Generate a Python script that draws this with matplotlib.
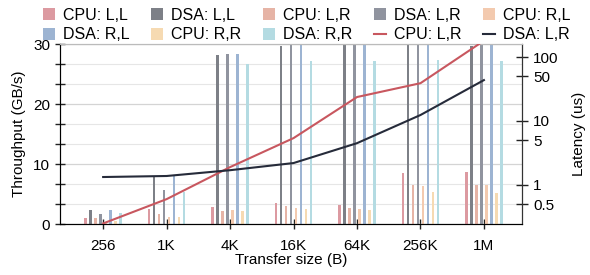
import numpy as np
import matplotlib
matplotlib.use("Agg")
import matplotlib.pyplot as plt
from matplotlib.ticker import MultipleLocator, FixedLocator, NullLocator, FuncFormatter

plt.rcParams['font.family'] = ['Liberation Sans', 'DejaVu Sans']

sizes = ['256', '1K', '4K', '16K', '64K', '256K', '1M']

# throughput bars (GB/s), values above 30 are clipped by the axis
bar_names = ['CPU: L,L', 'DSA: L,L', 'CPU: L,R', 'DSA: L,R',
             'CPU: R,L', 'DSA: R,L', 'CPU: R,R', 'DSA: R,R']
cpu_ll = [1.0, 2.5, 2.8, 3.5, 3.2, 8.5, 8.7]
dsa_ll = [2.3, 7.9, 28.2, 29.7, 29.8, 29.8, 29.7]
cpu_lr = [1.0, 1.7, 2.2, 3.0, 2.7, 6.5, 6.5]
dsa_lr = [1.6, 5.6, 28.4, 31.0, 31.0, 31.0, 31.0]
cpu_rl = [0.4, 1.1, 2.3, 2.6, 2.5, 6.4, 6.5]
dsa_rl = [2.3, 8.2, 28.3, 31.0, 31.0, 31.0, 31.0]
cpu_rr = [0.5, 1.1, 2.2, 2.5, 2.3, 5.4, 5.2]
dsa_rr = [1.8, 5.4, 26.6, 27.2, 27.2, 27.3, 27.2]

# latency lines (us)
lat_cpu_lr = [0.25, 0.6, 1.9, 5.4, 23.7, 39.0, 180.0]
lat_dsa_lr = [1.33, 1.38, 1.7, 2.2, 4.5, 12.4, 43.6]

bar_colors = ['#dc9aa1', '#7d8087', '#e6b4a6', '#90949f',
              '#f3caaf', '#9db4d2', '#f6dab2', '#b4dbe2']
line_colors = ['#c8575f', '#262b3a']

series = [cpu_ll, dsa_ll, cpu_lr, dsa_lr, cpu_rl, dsa_rl, cpu_rr, dsa_rr]

fs = 11

fig = plt.figure(figsize=(5.9, 2.75), dpi=100)
ax = fig.add_axes([60/590, 1-224/275, (522-60)/590, (224-44)/275])
x = np.arange(len(sizes))
step = 0.079
w = 0.04

for i, vals in enumerate(series):
    ax.bar(x + (i - 3.5)*step, vals, width=w, color=bar_colors[i],
           label=bar_names[i], zorder=2)

ax.set_ylim(0, 30)
ax.set_xlim(-0.68, 6.6)
ax.yaxis.set_major_locator(MultipleLocator(10))
ax.yaxis.set_minor_locator(MultipleLocator(10/3))
ax.grid(axis='y', which='major', color='#d4d4d4', lw=0.9, zorder=0)
ax.grid(axis='y', which='minor', color='#e6e6e6', lw=0.8, zorder=0)
ax.set_axisbelow(True)
ax.set_xticks(x)
ax.set_xticklabels(sizes)
ax.tick_params(axis='both', which='both', direction='inout', labelsize=fs,
               length=7, width=1, colors='#222222', labelcolor='black')
ax.tick_params(axis='x', pad=7)
ax.set_ylabel('Throughput (GB/s)', fontsize=fs, labelpad=5)
ax.set_xlabel('Transfer size (B)', fontsize=fs, labelpad=0)
for s in ['left', 'bottom']:
    ax.spines[s].set_color('#333333')
ax.spines['top'].set_color('#bbbbbb')

ax2 = ax.twinx()
ax2.plot(x, lat_cpu_lr, color=line_colors[0], lw=1.5, label='CPU: L,R', zorder=3)
ax2.plot(x, lat_dsa_lr, color=line_colors[1], lw=1.5, label='DSA: L,R', zorder=3)
ax2.set_yscale('log')
ax2.set_ylim(0.245, 160)
ax2.yaxis.set_major_locator(FixedLocator([0.5, 1, 5, 10, 50, 100]))
ax2.yaxis.set_minor_locator(NullLocator())
ax2.yaxis.set_major_formatter(FuncFormatter(lambda v, p: '%g' % v))
ax2.tick_params(axis='y', direction='inout', labelsize=fs, length=9, width=1,
                colors='#222222', labelcolor='black')
ax2.set_ylabel('Latency (us)', fontsize=fs, labelpad=10)
ax2.spines['right'].set_color('#333333')
ax2.spines['top'].set_color('#bbbbbb')

h1, l1 = ax.get_legend_handles_labels()
h2, l2 = ax2.get_legend_handles_labels()
hs = h1 + h2
ls = l1 + l2
# legend fills by column, so reorder to get row-wise order
order = [0, 5, 1, 6, 2, 7, 3, 8, 4, 9]
fig.legend([hs[k] for k in order], [ls[k] for k in order], loc='upper center',
           bbox_to_anchor=(0.52, 1.025), ncol=5, frameon=False, fontsize=11.5,
           handlelength=0.75, handleheight=0.75, handletextpad=0.5,
           columnspacing=1.35, labelspacing=0.3)

fig.savefig('out.png', dpi=100)
